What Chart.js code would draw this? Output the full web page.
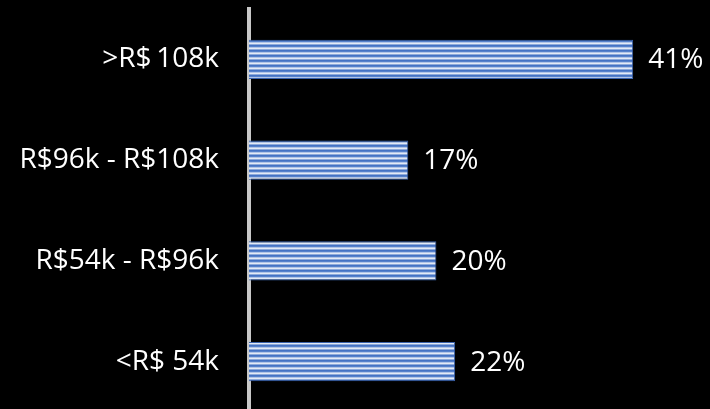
<!DOCTYPE html>
<html>
<head>
<meta charset="utf-8">
<script src="https://cdn.jsdelivr.net/npm/chart.js@4"></script>
<style>
  html, body { margin: 0; padding: 0; background: #000; overflow: hidden; }
  canvas { display: block; }
</style>
</head>
<body>
<canvas id="graficoFaixas" width="710" height="413"></canvas>
<script>
const faixas = ['>R$\u2009108k', 'R$96k - R$108k', 'R$54k - R$96k', '<R$ 54k'];
const percentuais = [41, 17, 20, 22];

// listras horizontais das barras
function criaListras(ctx) {
  const c = document.createElement('canvas');
  c.width = 4;
  c.height = 5;
  const p = c.getContext('2d');
  const cores = ['#4472c4', '#5681cb', '#b0c4e8', '#e3eaf6', '#8eaadb'];
  cores.forEach((cor, i) => {
    p.fillStyle = cor;
    p.fillRect(0, i, 4, 1);
  });
  return ctx.createPattern(c, 'repeat');
}

const rotulosValor = {
  id: 'rotulosValor',
  afterDatasetsDraw(chart) {
    const ctx = chart.ctx;
    const meta = chart.getDatasetMeta(0);
    ctx.save();
    ctx.font = '28px "Open Sans"';
    ctx.fillStyle = '#ffffff';
    ctx.textBaseline = 'middle';
    ctx.textAlign = 'left';
    meta.data.forEach((barra, i) => {
      ctx.fillText(percentuais[i] + '%', barra.x + 15, barra.y + 1);
    });
    ctx.restore();
  }
};

const canvas = document.getElementById('graficoFaixas');
const listras = criaListras(canvas.getContext('2d'));

const grafico = new Chart(canvas, {
  type: 'bar',
  data: {
    labels: faixas,
    datasets: [{
      data: percentuais,
      backgroundColor: listras,
      borderColor: '#3b63ad',
      borderWidth: 1,
      borderSkipped: 'left',
      categoryPercentage: 1,
      barPercentage: 0.39
    }]
  },
  options: {
    indexAxis: 'y',
    responsive: false,
    animation: false,
    layout: { padding: { top: 9, right: 0, bottom: 1, left: 0 } },
    plugins: {
      legend: { display: false },
      tooltip: { enabled: false }
    },
    scales: {
      x: {
        min: 0,
        max: 49.2,
        display: false
      },
      y: {
        offset: true,
        grid: {
          display: true,
          drawOnChartArea: false,
          drawTicks: true,
          tickLength: 30,
          tickColor: 'transparent',
          color: 'transparent'
        },
        border: { display: true, color: '#c8c8c8', width: 4 },
        ticks: {
          color: '#ffffff',
          padding: 0,
          font: { family: 'Open Sans', size: 28, lineHeight: 0.05 }
        },
        afterFit(scale) { scale.width = 249; }
      }
    }
  },
  plugins: [rotulosValor]
});
</script>
</body>
</html>
